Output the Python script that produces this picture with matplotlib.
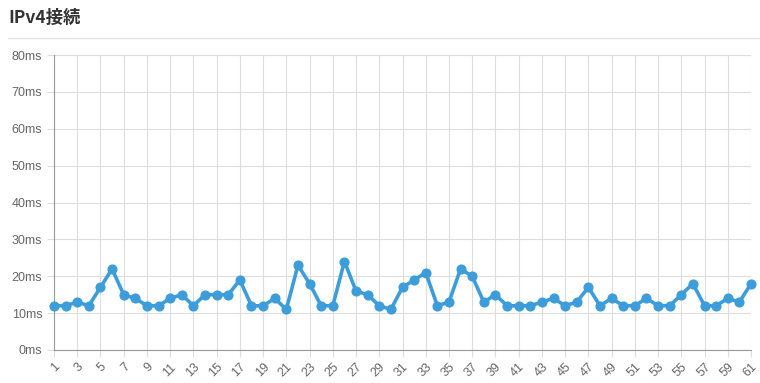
import matplotlib
matplotlib.use('Agg')
import matplotlib.pyplot as plt
from matplotlib.lines import Line2D

plt.rcParams['font.family'] = ['Liberation Sans', 'Noto Sans CJK JP', 'DejaVu Sans']

title = 'IPv4接続'
runs = list(range(1, 62))
latency_ms = [12, 12, 13, 12, 17, 22, 15, 14, 12, 12,
              14, 15, 12, 15, 15, 15, 19, 12, 12, 14,
              11, 23, 18, 12, 12, 24, 16, 15, 12, 11,
              17, 19, 21, 12, 13, 22, 20, 13, 15, 12,
              12, 12, 13, 14, 12, 13, 17, 12, 14, 12,
              12, 14, 12, 12, 15, 18, 12, 12, 14, 13,
              18]
y_ticks = [0, 10, 20, 30, 40, 50, 60, 70, 80]

fig = plt.figure(figsize=(7.6, 3.83), dpi=100)
ax = fig.add_axes([54/760, 33/383, 697/760, 295/383])

ax.plot(runs, latency_ms, color='#3d9ddb', linewidth=2.6, marker='o',
        markersize=6.3, zorder=3, clip_on=False)

ax.set_xlim(1, 61)
ax.set_ylim(0, 80)
ax.set_yticks(y_ticks)
ax.set_yticklabels([f'{v}ms' for v in y_ticks])
ax.set_xticks(runs[::2])
ax.set_xticklabels([str(r) for r in runs[::2]], rotation=45, ha='right',
                   rotation_mode='anchor')

ax.grid(color='#dddddd', linewidth=0.8)
ax.set_axisbelow(True)
for side in ['top', 'right']:
    ax.spines[side].set_visible(False)
for side in ['left', 'bottom']:
    ax.spines[side].set_color('#999999')
ax.tick_params(colors='#dddddd', labelcolor='#666666', labelsize=9,
               length=5, width=0.8)
ax.tick_params(axis='x', pad=3)

fig.text(8/760, 1 - 18/383, title, fontsize=12.5, fontweight='bold',
         color='#333333', va='center', ha='left',
         family=['Noto Sans CJK JP', 'DejaVu Sans'])
fig.add_artist(Line2D([8/760, 1], [1 - 38/383, 1 - 38/383],
                      color='#e5e5e5', linewidth=1))

fig.savefig('out.png', dpi=100)
